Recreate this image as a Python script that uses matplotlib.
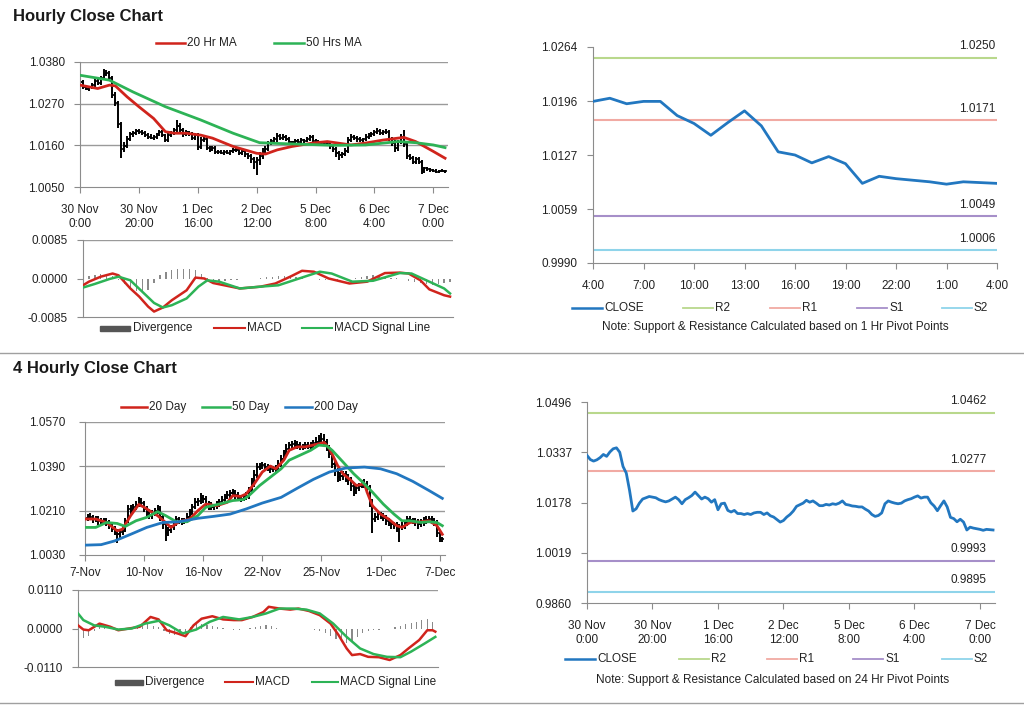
import numpy as np
import matplotlib
matplotlib.use('Agg')
import matplotlib.pyplot as plt
from matplotlib.lines import Line2D
from matplotlib.patches import Rectangle

plt.rcParams['font.family'] = ['Liberation Sans', 'DejaVu Sans']

# ---------------- hourly data (30 Nov 0:00 .. 7 Dec 4:00) ----------------
hr_close = [1.0327, 1.0314, 1.0309, 1.0313, 1.0320, 1.0330, 1.0324, 1.0338, 1.0348, 1.0351,
            1.0337, 1.0292, 1.0271, 1.0216, 1.0151, 1.0158, 1.0176, 1.0189, 1.0193, 1.0197,
            1.0195, 1.0193, 1.0187, 1.0183, 1.0180, 1.0183, 1.0189, 1.0195, 1.0187, 1.0174,
            1.0187, 1.0193, 1.0200, 1.0211, 1.0200, 1.0189, 1.0195, 1.0190, 1.0179, 1.0187,
            1.0155, 1.0174, 1.0176, 1.0153, 1.0148, 1.0153, 1.0143, 1.0143, 1.0140, 1.0143,
            1.0140, 1.0145, 1.0147, 1.0147, 1.0140, 1.0145, 1.0136, 1.0132, 1.0124, 1.0116,
            1.0121, 1.0132, 1.0140, 1.0151, 1.0166, 1.0171, 1.0176, 1.0185, 1.0179, 1.0183,
            1.0176, 1.0168, 1.0168, 1.0172, 1.0170, 1.0174, 1.0172, 1.0176, 1.0183, 1.0172,
            1.0170, 1.0167, 1.0166, 1.0164, 1.0164, 1.0157, 1.0151, 1.0140, 1.0134, 1.0137,
            1.0145, 1.0174, 1.0183, 1.0179, 1.0176, 1.0174, 1.0176, 1.0183, 1.0187, 1.0190,
            1.0195, 1.0199, 1.0192, 1.0195, 1.0195, 1.0177, 1.0167, 1.0152, 1.0168, 1.0183,
            1.0164, 1.0131, 1.0127, 1.0117, 1.0125, 1.0116, 1.0091, 1.0100, 1.0097, 1.0095,
            1.0093, 1.0090, 1.0093, 1.0092, 1.0091]
# wick sizes in pips beyond open/close
hr_up = [4, 5, 6, 4, 5, 6, 5, 6, 13, 8, 6, 5, 8, 6, 5, 10, 8, 6, 5, 7,
         5, 6, 4, 5, 6, 5, 4, 6, 5, 4, 5, 6, 5, 15, 8, 5, 6, 4, 5, 6,
         5, 8, 6, 5, 4, 6, 5, 4, 5, 4, 5, 4, 6, 5, 4, 5, 4, 5, 6, 5,
         8, 10, 12, 8, 6, 5, 6, 7, 5, 6, 5, 6, 4, 5, 6, 5, 4, 6, 5, 4,
         5, 4, 5, 4, 5, 6, 5, 4, 5, 6, 8, 8, 6, 5, 6, 5, 4, 6, 5, 6,
         5, 7, 5, 6, 8, 6, 5, 6, 5, 8, 18, 6, 5, 4, 5, 4, 5, 4, 3, 4,
         3, 4, 3, 4, 3]
hr_dn = [5, 6, 4, 5, 4, 5, 6, 4, 5, 6, 5, 6, 8, 10, 25, 8, 6, 5, 6, 5,
         4, 5, 6, 5, 4, 5, 6, 4, 5, 6, 5, 4, 5, 6, 5, 6, 4, 5, 6, 5,
         8, 6, 5, 6, 5, 4, 6, 5, 4, 5, 4, 5, 4, 5, 6, 5, 6, 8, 10, 18,
         35, 12, 8, 6, 5, 4, 5, 6, 5, 4, 5, 6, 5, 4, 5, 6, 5, 4, 5, 6,
         5, 6, 5, 4, 5, 6, 8, 10, 12, 8, 6, 5, 4, 5, 6, 5, 4, 5, 6, 5,
         5, 4, 6, 5, 4, 6, 8, 10, 6, 5, 8, 6, 5, 6, 5, 6, 8, 5, 4, 5,
         4, 3, 4, 3, 4]
hr_xlabels = ['30 Nov\n0:00', '30 Nov\n20:00', '1 Dec\n16:00', '2 Dec\n12:00',
              '5 Dec\n8:00', '6 Dec\n4:00', '7 Dec\n0:00']

ma20_hr_idx = [0, 6, 10, 12, 16, 20, 25, 29, 32, 36, 41, 45, 52, 60, 63, 67, 72, 79, 84,
               92, 97, 103, 110, 114, 120, 124]
ma20_hr = [1.0319, 1.0310, 1.0319, 1.0317, 1.0288, 1.0262, 1.0231, 1.0196, 1.0192, 1.0192,
           1.0187, 1.0179, 1.0157, 1.0139, 1.0137, 1.0148, 1.0157, 1.0166, 1.0170, 1.0161,
           1.0166, 1.0174, 1.0181, 1.0170, 1.0144, 1.0126]
ma50_hr_idx = [0, 7, 10, 18, 29, 41, 52, 61, 67, 75, 86, 97, 108, 114, 120, 124]
ma50_hr = [1.0345, 1.0336, 1.0332, 1.0301, 1.0262, 1.0227, 1.0192, 1.0167, 1.0165, 1.0163,
           1.0160, 1.0161, 1.0170, 1.0167, 1.0161, 1.0154]

macd_hr_idx = [0, 2, 6, 10, 12, 16, 19, 22, 24, 27, 30, 35, 38, 41, 44, 50, 53, 60, 65, 70,
               74, 78, 83, 90, 96, 102, 107, 110, 114, 117, 122, 124]
macd_hr = [-0.0015, -0.0007, 0.0004, 0.0011, 0.0007, -0.0022, -0.0040, -0.0062, -0.0073, -0.0064,
           -0.0048, -0.0026, 0.0002, 0.0000, -0.0010, -0.0018, -0.0022, -0.0018, -0.0011, 0.0004,
           0.0017, 0.0015, 0.0000, -0.0011, -0.0007, 0.0012, 0.0013, 0.0011, -0.0004, -0.0024,
           -0.0037, -0.0040]
signal_hr_idx = [0, 4, 9, 12, 16, 20, 24, 27, 30, 35, 39, 42, 46, 53, 60, 66, 73, 80, 84, 91,
                 98, 107, 111, 117, 122, 124]
signal_hr = [-0.0020, -0.0012, -0.0001, 0.0004, -0.0004, -0.0029, -0.0054, -0.0064, -0.0059, -0.0044,
             -0.0018, -0.0004, -0.0007, -0.0022, -0.0018, -0.0015, 0.0000, 0.0015, 0.0011, -0.0007,
             -0.0005, 0.0012, 0.0011, -0.0007, -0.0022, -0.0033]
# divergence, every second hour
div_hr = [0.0005, 0.0006, 0.0008, 0.0009, 0.0008, 0.0006,
          -0.0003, -0.0012, -0.0020, -0.0028, -0.0032, -0.0025, -0.0010,
          0.0008, 0.0014, 0.0018, 0.0021, 0.0022, 0.0022, 0.0018, 0.0010,
          0.0002, -0.0004, -0.0006, -0.0005, -0.0004, -0.0003, -0.0002, -0.0001, 0.0000,
          0.0002, 0.0003, 0.0004, 0.0005, 0.0005, 0.0006, 0.0004, 0.0002,
          0.0000, -0.0002, -0.0003, -0.0004, -0.0003, -0.0003, -0.0002, -0.0001,
          0.0002, 0.0004, 0.0006, 0.0007, 0.0006, 0.0004, 0.0002, 0.0001,
          -0.0002, -0.0005, -0.0008, -0.0011, -0.0013, -0.0015, -0.0012, -0.0010, -0.0008]

# last 24 hours + pivot levels (1 Hr)
day_close = hr_close[100:]
day_xlabels = ['4:00', '7:00', '10:00', '13:00', '16:00', '19:00', '22:00', '1:00', '4:00']
day_yticks = ['0.9990', '1.0059', '1.0127', '1.0196', '1.0264']
day_levels = {'R2': 1.0250, 'R1': 1.0171, 'S1': 1.0049, 'S2': 1.0006}
day_level_labels = ['1.0250', '1.0171', '1.0049', '1.0006']

# ---------------- 4 hourly data (7 Nov .. 7 Dec) ----------------
h4_close = [1.0180, 1.0186, 1.0183, 1.0175, 1.0178, 1.0170, 1.0166, 1.0172, 1.0162, 1.0150,
            1.0135, 1.0128, 1.0114, 1.0122, 1.0135, 1.0170, 1.0217, 1.0210, 1.0226, 1.0235,
            1.0251, 1.0240, 1.0217, 1.0205, 1.0190, 1.0200, 1.0210, 1.0217, 1.0185, 1.0155,
            1.0121, 1.0130, 1.0142, 1.0160, 1.0176, 1.0170, 1.0165, 1.0172, 1.0185, 1.0203,
            1.0225, 1.0244, 1.0250, 1.0262, 1.0258, 1.0237, 1.0230, 1.0224, 1.0228, 1.0236,
            1.0244, 1.0255, 1.0266, 1.0275, 1.0282, 1.0285, 1.0272, 1.0262, 1.0258, 1.0265,
            1.0271, 1.0290, 1.0319, 1.0355, 1.0387, 1.0392, 1.0394, 1.0387, 1.0382, 1.0378,
            1.0380, 1.0387, 1.0400, 1.0421, 1.0440, 1.0462, 1.0475, 1.0480, 1.0483, 1.0475,
            1.0469, 1.0472, 1.0476, 1.0470, 1.0478, 1.0483, 1.0490, 1.0497, 1.0503, 1.0490,
            1.0465, 1.0440, 1.0401, 1.0370, 1.0346, 1.0352, 1.0360, 1.0345, 1.0333, 1.0310,
            1.0292, 1.0300, 1.0312, 1.0318, 1.0319, 1.0305, 1.0244, 1.0176, 1.0185, 1.0196,
            1.0190, 1.0180, 1.0169, 1.0162, 1.0155, 1.0150, 1.0142, 1.0145, 1.0149, 1.0160,
            1.0176, 1.0172, 1.0169, 1.0165, 1.0155, 1.0162, 1.0169, 1.0172, 1.0176, 1.0170,
            1.0162, 1.0121, 1.0094, 1.0094]
h4_up = [12, 10, 14, 10, 12, 10, 12, 8, 10, 12, 10, 12, 8, 10, 14, 12, 18, 15, 12, 14,
         16, 12, 10, 12, 10, 14, 12, 15, 10, 12, 10, 12, 10, 12, 14, 10, 12, 10, 14, 12,
         14, 16, 12, 18, 12, 10, 12, 14, 10, 12, 12, 14, 12, 15, 12, 14, 10, 12, 10, 12,
         14, 18, 22, 20, 15, 12, 14, 10, 12, 14, 12, 10, 14, 16, 18, 20, 15, 14, 12, 10,
         12, 10, 14, 12, 10, 15, 18, 20, 22, 18, 12, 10, 15, 12, 14, 16, 12, 10, 14, 12,
         10, 14, 12, 15, 18, 12, 10, 12, 14, 12, 10, 12, 14, 10, 12, 10, 12, 10, 14, 12,
         14, 12, 10, 12, 10, 14, 16, 15, 14, 12, 10, 12, 10, 8]
h4_dn = [14, 12, 10, 16, 12, 18, 14, 12, 16, 14, 12, 18, 34, 14, 12, 10, 12, 14, 10, 12,
         10, 14, 12, 16, 14, 12, 10, 12, 18, 20, 34, 14, 12, 10, 12, 14, 12, 10, 12, 10,
         12, 10, 14, 12, 16, 14, 18, 12, 10, 12, 10, 12, 14, 10, 12, 14, 16, 12, 14, 10,
         12, 14, 10, 12, 14, 12, 14, 16, 12, 14, 12, 14, 10, 12, 10, 12, 14, 12, 10, 14,
         12, 14, 12, 10, 14, 12, 10, 12, 14, 16, 14, 16, 18, 20, 18, 14, 16, 18, 20, 22,
         24, 14, 12, 10, 14, 18, 20, 55, 14, 12, 14, 12, 16, 14, 18, 16, 20, 60, 14, 12,
         12, 14, 12, 16, 18, 12, 14, 12, 14, 16, 14, 18, 12, 10]
h4_xlabels = ['7-Nov', '10-Nov', '16-Nov', '22-Nov', '25-Nov', '1-Dec', '7-Dec']

ma20_4h_idx = [0, 4, 8, 12, 14, 17, 20, 22, 25, 27, 30, 32, 35, 39, 42, 45, 49, 53, 55, 58,
               60, 63, 66, 69, 71, 74, 76, 79, 82, 86, 89, 91, 94, 96, 99, 101, 104, 105, 107, 110,
               113, 116, 118, 121, 125, 128, 131, 133]
ma20_4h = [1.0176, 1.0176, 1.0162, 1.0128, 1.0135, 1.0190, 1.0235, 1.0224, 1.0203, 1.0190,
           1.0162, 1.0142, 1.0165, 1.0176, 1.0210, 1.0237, 1.0230, 1.0244, 1.0271, 1.0268,
           1.0278, 1.0319, 1.0367, 1.0391, 1.0380, 1.0415, 1.0455, 1.0469, 1.0469, 1.0479,
           1.0487, 1.0462, 1.0394, 1.0360, 1.0333, 1.0312, 1.0319, 1.0285, 1.0230, 1.0196,
           1.0176, 1.0149, 1.0142, 1.0162, 1.0165, 1.0169, 1.0149, 1.0114]
ma50_4h_idx = [0, 4, 8, 12, 15, 19, 23, 27, 30, 34, 38, 42, 45, 50, 55, 59, 61, 65, 69, 73,
               76, 80, 84, 87, 90, 92, 96, 100, 104, 107, 111, 115, 118, 121, 125, 128, 131, 133]
ma50_4h = [1.0142, 1.0142, 1.0162, 1.0158, 1.0146, 1.0169, 1.0183, 1.0206, 1.0190, 1.0165,
           1.0165, 1.0190, 1.0224, 1.0237, 1.0251, 1.0255, 1.0271, 1.0312, 1.0346, 1.0380,
           1.0415, 1.0435, 1.0455, 1.0476, 1.0473, 1.0455, 1.0408, 1.0360, 1.0319, 1.0285,
           1.0237, 1.0196, 1.0169, 1.0169, 1.0162, 1.0165, 1.0162, 1.0149]
ma200_4h_idx = [0, 6, 11, 17, 23, 29, 35, 42, 48, 54, 60, 66, 73, 79, 85, 91, 97, 104, 110,
                116, 122, 128, 133]
ma200_4h = [1.0070, 1.0072, 1.0087, 1.0114, 1.0142, 1.0162, 1.0165, 1.0179, 1.0187, 1.0196,
            1.0217, 1.0241, 1.0264, 1.0301, 1.0337, 1.0367, 1.0383, 1.0387, 1.0380, 1.0360,
            1.0329, 1.0292, 1.0260]

macd_4h_idx = [0, 2, 4, 8, 12, 15, 19, 23, 27, 30, 33, 37, 40, 43, 46, 50, 54, 58, 61, 65,
               69, 71, 75, 79, 82, 86, 90, 94, 97, 100, 102, 105, 108, 112, 116, 120, 123, 127,
               130, 132, 133]
macd_4h = [0.0009, -0.0003, -0.0005, 0.0014, 0.0005, -0.0005, 0.0000, 0.0005, 0.0033, 0.0026,
           -0.0005, -0.0014, -0.0022, 0.0009, 0.0028, 0.0035, 0.0026, 0.0024, 0.0024, 0.0033,
           0.0047, 0.0062, 0.0057, 0.0054, 0.0057, 0.0050, 0.0038, 0.0014, -0.0019, -0.0057,
           -0.0076, -0.0073, -0.0081, -0.0082, -0.0090, -0.0076, -0.0057, -0.0033, -0.0005, -0.0005,
           -0.0009]
signal_4h_idx = [0, 2, 6, 10, 15, 20, 25, 30, 34, 39, 44, 49, 54, 60, 65, 70, 75, 80, 85, 90,
                 95, 100, 105, 110, 115, 120, 124, 129, 133]
signal_4h = [0.0043, 0.0024, 0.0009, 0.0005, -0.0003, 0.0000, 0.0014, 0.0022, 0.0009, -0.0014,
             -0.0003, 0.0019, 0.0033, 0.0026, 0.0033, 0.0043, 0.0057, 0.0057, 0.0054, 0.0043,
             0.0014, -0.0024, -0.0057, -0.0073, -0.0081, -0.0082, -0.0066, -0.0043, -0.0024]
div_4h = [-0.0030, -0.0027, -0.0020, -0.0008, 0.0004, 0.0005,
          0.0003, 0.0002, 0.0000, -0.0002, 0.0002, 0.0006, 0.0010, 0.0012, 0.0008, 0.0004,
          -0.0008, -0.0015, -0.0018, -0.0016, -0.0010,
          0.0005, 0.0012, 0.0014, 0.0010, 0.0006, 0.0003, 0.0001,
          -0.0002, -0.0003, -0.0003, -0.0002, 0.0002, 0.0005, 0.0008, 0.0010,
          0.0006, 0.0002, 0.0000, -0.0001, -0.0002, -0.0002, -0.0001, -0.0002, -0.0004, -0.0008,
          -0.0014, -0.0022,
          -0.0030, -0.0036, -0.0040, -0.0038, -0.0025, -0.0012, -0.0006, -0.0004,
          -0.0003, -0.0002, -0.0001, 0.0003, 0.0008, 0.0012, 0.0016, 0.0020, 0.0024, 0.0028, 0.0020]

# hourly close with 24 Hr pivot levels
wk_yticks = ['0.9860', '1.0019', '1.0178', '1.0337', '1.0496']
wk_levels = {'R2': 1.0462, 'R1': 1.0277, 'S1': 0.9993, 'S2': 0.9895}
wk_level_labels = ['1.0462', '1.0277', '0.9993', '0.9895']

# ---------------- styling ----------------
RED = '#d0241c'
GREEN = '#2db356'
BLUE = '#2277c0'
LEVEL_COLORS = {'R2': '#b9d88c', 'R1': '#f1aaa3', 'S1': '#a68fc9', 'S2': '#8fd4ea'}
AXC = '#8c8c8c'
TXT = '#222222'
FS = 8.5

W, H = 1024, 706
fig = plt.figure(figsize=(W / 100, H / 100), dpi=100)


def px_axes(l, t, r, b):
    return fig.add_axes([l / W, 1 - b / H, (r - l) / W, (b - t) / H])


def fig_line(x0, x1, y, color, lw=1.5):
    fig.add_artist(Line2D([x0 / W, x1 / W], [1 - y / H, 1 - y / H], color=color, lw=lw,
                          transform=fig.transFigure))


def fig_text(x, y, s, **kw):
    fig.text(x / W, 1 - y / H, s, va='center', color=TXT, fontsize=FS, **kw)


def style(ax, xpad=8, ypad=7):
    for s in ['top', 'right']:
        ax.spines[s].set_visible(False)
    for s in ['left', 'bottom']:
        ax.spines[s].set_color(AXC)
    ax.tick_params(axis='both', length=4, color=AXC, labelsize=FS, labelcolor=TXT)
    ax.tick_params(axis='x', pad=xpad)
    ax.tick_params(axis='y', pad=ypad)


def ohlc(ax, close, up, dn):
    close = np.array(close)
    x = np.arange(len(close))
    opn = np.concatenate([[close[0]], close[:-1]])
    hi = np.maximum(opn, close) + np.array(up) / 10000
    lo = np.minimum(opn, close) - np.array(dn) / 10000
    ax.vlines(x, lo, hi, color='black', lw=1.4, zorder=2)
    ax.hlines(opn, x - 0.55, x, color='black', lw=1.2, zorder=2)
    ax.hlines(close, x, x + 0.55, color='black', lw=1.2, zorder=2)


def price_axis(ax, yticks, ylim, xmax, step, xlabels):
    ax.set_ylim(*ylim)
    ax.set_yticks(yticks)
    ax.set_yticklabels(['%.4f' % v for v in yticks])
    for v in yticks[1:]:
        ax.axhline(v, color='#9a9a9a', lw=1, zorder=1)
    ax.set_xlim(0, xmax)
    ax.set_xticks(np.arange(len(xlabels)) * step)
    ax.set_xticklabels(xlabels, linespacing=1.25)


def macd_axis(ax, lim, xmax, ticklbl):
    ax.set_ylim(-lim, lim)
    ax.set_yticks([-lim, 0, lim])
    ax.set_yticklabels(ticklbl)
    ax.axhline(lim, color='#9a9a9a', lw=1, zorder=1)
    ax.set_xlim(0, xmax)
    ax.set_xticks([])


def level_chart(ax, close, levels, labels, yt, xmax, step, xlabels, lbl_dx):
    lo, hi = float(yt[0]), float(yt[-1])
    for (name, val), lab in zip(levels.items(), labels):
        ax.axhline(val, color=LEVEL_COLORS[name], lw=1.5, zorder=1)
        ax.annotate(lab, xy=(xmax, val), xytext=(lbl_dx, 4), textcoords='offset points',
                    ha='right', va='bottom', fontsize=FS, color=TXT)
    ax.plot(np.arange(len(close)), close, color=BLUE, lw=2, zorder=3)
    ax.set_ylim(lo, hi)
    ax.set_yticks(np.linspace(lo, hi, len(yt)))
    ax.set_yticklabels(yt)
    ax.set_xlim(0, xmax)
    ax.set_xticks(np.arange(len(xlabels)) * step)
    ax.set_xticklabels(xlabels, linespacing=1.25)


# ---------------- section titles & separators ----------------
fig.text(13 / W, 1 - 16 / H, 'Hourly Close Chart', fontsize=12, fontweight='bold',
         va='center', color='#1a1a1a')
fig.text(13 / W, 1 - 369 / H, '4 Hourly Close Chart', fontsize=12, fontweight='bold',
         va='center', color='#1a1a1a')
fig_line(0, W, 353, '#a0a0a0', 1)
fig_line(0, W, 703, '#a0a0a0', 1)

# ---------------- hourly price ----------------
ax1 = px_axes(80, 62, 448, 187)
style(ax1)
ohlc(ax1, hr_close, hr_up, hr_dn)
ax1.plot(ma20_hr_idx, ma20_hr, color=RED, lw=2, zorder=3)
ax1.plot(ma50_hr_idx, ma50_hr, color=GREEN, lw=2, zorder=3)
price_axis(ax1, [1.0050, 1.0160, 1.0270, 1.0380], (1.0050, 1.0380), 125, 20, hr_xlabels)
fig_line(156, 185, 43, RED, 1.8)
fig_text(187, 43, '20 Hr MA')
fig_line(274, 304, 43, GREEN, 1.8)
fig_text(306, 43, '50 Hrs MA')

# ---------------- hourly MACD ----------------
ax2 = px_axes(83, 240, 453, 317)
style(ax2)
ax2.bar(np.arange(0, len(div_hr) * 2, 2), div_hr, width=0.45, color='#8a8a8a', zorder=2)
ax2.plot(macd_hr_idx, macd_hr, color=RED, lw=1.8, zorder=3)
ax2.plot(signal_hr_idx, signal_hr, color=GREEN, lw=1.8, zorder=3)
macd_axis(ax2, 0.0085, 125, ['-0.0085', '0.0000', '0.0085'])
fig.add_artist(Rectangle((100 / W, 1 - 330.5 / H), 30 / W, 5 / H, color='#555555',
                         transform=fig.transFigure))
fig_text(133, 328, 'Divergence')
fig_line(214, 245, 328, RED, 1.5)
fig_text(247, 328, 'MACD')
fig_line(302, 332, 328, GREEN, 1.5)
fig_text(334, 328, 'MACD Signal Line')

# ---------------- last 24 hours with 1 Hr pivots ----------------
ax3 = px_axes(593, 47, 997, 263)
style(ax3)
level_chart(ax3, day_close, day_levels, day_level_labels, day_yticks, 24, 3, day_xlabels, -1)
legend_cols = [('CLOSE', BLUE), ('R2', LEVEL_COLORS['R2']), ('R1', LEVEL_COLORS['R1']),
               ('S1', LEVEL_COLORS['S1']), ('S2', LEVEL_COLORS['S2'])]
for (name, col), x0 in zip(legend_cols, [572, 683, 770, 857, 942]):
    fig_line(x0, x0 + 30, 308, col, 1.8 if name == 'CLOSE' else 1.3)
    fig_text(x0 + 32, 308, name)
fig_text(775, 327, 'Note: Support & Resistance Calculated based on 1 Hr Pivot Points', ha='center')

# ---------------- 4 hourly price ----------------
ax4 = px_axes(85, 422, 445, 555)
style(ax4, xpad=5, ypad=10)
ohlc(ax4, h4_close, h4_up, h4_dn)
ax4.plot(ma20_4h_idx, ma20_4h, color=RED, lw=2, zorder=3)
ax4.plot(ma50_4h_idx, ma50_4h, color=GREEN, lw=2, zorder=3)
ax4.plot(ma200_4h_idx, ma200_4h, color=BLUE, lw=2, zorder=3)
price_axis(ax4, [1.0030, 1.0210, 1.0390, 1.0570], (1.0030, 1.0570), 134, 22, h4_xlabels)
fig_line(121, 147, 407, RED, 1.8)
fig_text(149, 407, '20 Day')
fig_line(202, 230, 407, GREEN, 1.8)
fig_text(232, 407, '50 Day')
fig_line(285, 312, 407, BLUE, 1.8)
fig_text(314, 407, '200 Day')

# ---------------- 4 hourly MACD ----------------
ax5 = px_axes(78, 590, 438, 667)
style(ax5)
ax5.bar(np.arange(0, len(div_4h) * 2, 2), div_4h, width=0.45, color='#8a8a8a', zorder=2)
ax5.plot(macd_4h_idx, macd_4h, color=RED, lw=1.8, zorder=3)
ax5.plot(signal_4h_idx, signal_4h, color=GREEN, lw=1.8, zorder=3)
macd_axis(ax5, 0.0110, 134, ['-0.0110', '0.0000', '0.0110'])
fig.add_artist(Rectangle((115 / W, 1 - 684.5 / H), 28 / W, 5 / H, color='#555555',
                         transform=fig.transFigure))
fig_text(145, 682, 'Divergence')
fig_line(225, 253, 682, RED, 1.5)
fig_text(255, 682, 'MACD')
fig_line(312, 338, 682, GREEN, 1.5)
fig_text(340, 682, 'MACD Signal Line')

# ---------------- hourly close with 24 Hr pivots ----------------
ax6 = px_axes(587, 402, 995, 603)
style(ax6)
level_chart(ax6, hr_close, wk_levels, wk_level_labels, wk_yticks, 124.6, 20, hr_xlabels, -6)
for (name, col), x0 in zip(legend_cols, [565, 679, 767, 853, 942]):
    fig_line(x0, x0 + 30, 659, col, 1.8 if name == 'CLOSE' else 1.3)
    fig_text(x0 + 32, 659, name)
fig_text(773, 680, 'Note: Support & Resistance Calculated based on 24 Hr Pivot Points', ha='center')

fig.savefig('out.png', dpi=100)
